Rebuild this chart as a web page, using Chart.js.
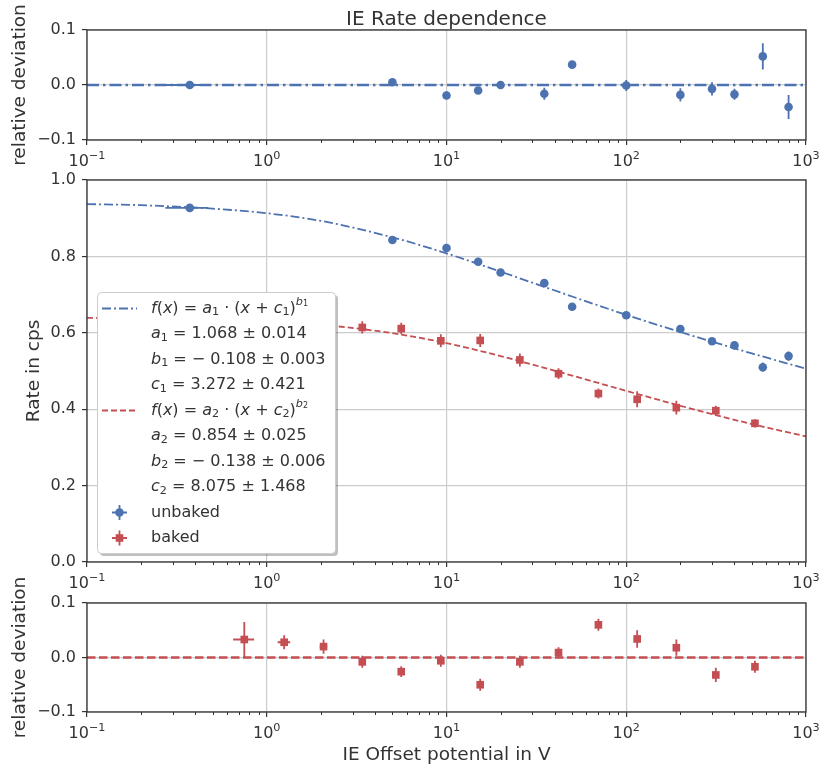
<!DOCTYPE html>
<html>
<head>
<meta charset="utf-8">
<title>IE Rate dependence</title>
<script src="https://cdn.jsdelivr.net/npm/chart.js@4.4.0/dist/chart.umd.min.js"></script>
<style>
  body { margin: 0; background: #fff; }
  #wrap { position: relative; width: 821px; height: 766px; }
  #wrap canvas { position: absolute; left: 0; top: 0; }
</style>
</head>
<body>
<div id="wrap">
  <canvas id="topChart" width="821" height="766"></canvas>
  <canvas id="mainChart" width="821" height="766"></canvas>
  <canvas id="botChart" width="821" height="766"></canvas>
</div>
<script>
// --------------------
// Data
// --------------------
const xTickValues = [0.1, 1, 10, 100, 1000];
const xTickExp = ['−1', '0', '1', '2', '3'];   // labels are 10^exp
const rateTicks = [0, 0.2, 0.4, 0.6, 0.8, 1.0];
const resTicks = [-0.1, 0, 0.1];

// unbaked (blue circles)
const unbakedX = [0.373, 5, 10, 15, 20, 35, 50, 100, 200, 300, 400, 575, 800];
const unbakedY = [0.927, 0.843, 0.822, 0.786, 0.758, 0.730, 0.668, 0.646, 0.610, 0.578, 0.567, 0.510, 0.539];
const unbakedXErr = [0.1, 0.1, 0.1, 0.1, 0.1, 0.1, 0.1, 0.1, 0.1, 0.1, 0.1, 0.1, 0.1];
const unbakedYErr = [0.004, 0.004, 0.005, 0.005, 0.005, 0.008, 0.004, 0.006, 0.007, 0.007, 0.006, 0.012, 0.012];
const unbakedRes = [0.000, 0.005, -0.019, -0.010, 0.000, -0.016, 0.037, -0.001, -0.018, -0.007, -0.017, 0.052, -0.040];
const unbakedResErr = [0.005, 0.005, 0.007, 0.006, 0.007, 0.011, 0.005, 0.010, 0.012, 0.012, 0.010, 0.024, 0.022];

// baked (red squares)
const bakedX = [0.75, 1.25, 2.07, 3.4, 5.6, 9.3, 15.4, 25.6, 42, 70, 115, 190, 315, 520];
const bakedY = [0.612, 0.611, 0.608, 0.614, 0.611, 0.579, 0.580, 0.529, 0.493, 0.441, 0.426, 0.404, 0.396, 0.363];
const bakedXErr = [0.1, 0.1, 0.1, 0.1, 0.1, 0.1, 0.1, 0.1, 0.1, 0.1, 0.1, 0.1, 0.1, 0.1];
const bakedYErr = [0.020, 0.015, 0.015, 0.016, 0.015, 0.017, 0.017, 0.017, 0.014, 0.013, 0.021, 0.018, 0.013, 0.011];
const bakedRes = [0.033, 0.028, 0.020, -0.008, -0.026, -0.006, -0.050, -0.008, 0.009, 0.060, 0.034, 0.018, -0.032, -0.017];
const bakedResErr = [0.032, 0.013, 0.013, 0.011, 0.010, 0.011, 0.011, 0.011, 0.010, 0.011, 0.016, 0.015, 0.013, 0.011];

// fit curves
const fitX = [0.1, 0.2, 0.5, 1, 2, 5, 10, 20, 50, 100, 200, 500, 1000];
const fitUnbaked = [0.937, 0.934, 0.925, 0.913, 0.893, 0.850, 0.808, 0.760, 0.695, 0.647, 0.602, 0.546, 0.506];
const fitBaked = [0.639, 0.638, 0.635, 0.630, 0.621, 0.599, 0.573, 0.539, 0.488, 0.448, 0.409, 0.361, 0.329];
const zeroX = [0.1, 1000];
const zeroY = [0, 0];

// legend parameter texts
const paramA = ['1.068 ± 0.014', '0.854 ± 0.025'];
const paramB = ['− 0.108 ± 0.003', '− 0.138 ± 0.006'];
const paramC = ['3.272 ± 0.421', '8.075 ± 1.468'];

// --------------------
// Style
// --------------------
const BLUE = '#4c72b0';
const RED = '#c44e52';
const GRID = '#cccccc';
const INK = '#333333';
const FONT = '"DejaVu Sans", sans-serif';
const TICK_SIZE = 16;
Chart.defaults.font.family = FONT;
Chart.defaults.color = INK;

const pts = (xs, ys) => xs.map((x, i) => ({ x: x, y: ys[i] }));

// --------------------
// Rich text helpers (italic / sub / sup)
// --------------------
function segFont(s, size) {
  let fs = size, dy = 0;
  if (s.sub) { fs = size * 0.7; dy = size * 0.24; }
  if (s.sup) { fs = size * 0.7; dy = -size * 0.42; }
  if (s.ss) { fs = size * 0.5; dy = -size * 0.26; }
  return { font: (s.it ? 'italic ' : '') + fs + 'px ' + FONT, dy: dy };
}

function measureRich(ctx, segs, size) {
  let w = 0;
  segs.forEach(s => { ctx.font = segFont(s, size).font; w += ctx.measureText(s.t).width; });
  return w;
}

function drawRich(ctx, x, y, segs, size) {
  segs.forEach(s => {
    const f = segFont(s, size);
    ctx.font = f.font;
    ctx.fillText(s.t, x, y + f.dy);
    x += ctx.measureText(s.t).width;
  });
}

// --------------------
// Plugins
// --------------------
const errorBars = {
  id: 'errorBars',
  beforeDatasetsDraw(chart) {
    const { ctx, chartArea: a, scales: { x, y } } = chart;
    ctx.save();
    ctx.beginPath();
    ctx.rect(a.left, a.top, a.right - a.left, a.bottom - a.top);
    ctx.clip();
    chart.data.datasets.forEach(ds => {
      if (!ds.yErr) return;
      ctx.strokeStyle = ds.backgroundColor;
      ctx.lineWidth = 1.8;
      ds.data.forEach((p, i) => {
        const px = x.getPixelForValue(p.x);
        const py = y.getPixelForValue(p.y);
        ctx.beginPath();
        ctx.moveTo(px, y.getPixelForValue(p.y - ds.yErr[i]));
        ctx.lineTo(px, y.getPixelForValue(p.y + ds.yErr[i]));
        if (ds.xErr && ds.xErr[i]) {
          ctx.moveTo(x.getPixelForValue(p.x - ds.xErr[i]), py);
          ctx.lineTo(x.getPixelForValue(p.x + ds.xErr[i]), py);
        }
        ctx.stroke();
      });
    });
    ctx.restore();
  }
};

// frame, minor ticks, x tick labels, titles
const frame = {
  id: 'frame',
  afterDraw(chart, args, o) {
    const { ctx, chartArea: a, scales: { x } } = chart;
    ctx.save();
    // minor ticks on the log axis
    ctx.strokeStyle = INK;
    ctx.lineWidth = 1;
    xTickValues.slice(0, -1).forEach(dec => {
      for (let m = 2; m <= 9; m++) {
        const px = Math.round(x.getPixelForValue(dec * m)) + 0.5;
        ctx.beginPath();
        ctx.moveTo(px, a.bottom);
        ctx.lineTo(px, a.bottom + 3);
        ctx.stroke();
      }
    });
    ctx.lineWidth = 1.3;
    ctx.strokeRect(a.left, a.top, a.right - a.left, a.bottom - a.top);

    ctx.fillStyle = INK;
    ctx.textBaseline = 'alphabetic';
    // x tick labels 10^k
    ctx.textAlign = 'left';
    xTickValues.forEach((v, i) => {
      const segs = [{ t: '10' }, { t: xTickExp[i], sup: 1 }];
      const w = measureRich(ctx, segs, TICK_SIZE);
      drawRich(ctx, x.getPixelForValue(v) - w / 2, a.bottom + 26, segs, TICK_SIZE);
    });

    ctx.textAlign = 'center';
    if (o.title) {
      ctx.font = '20px ' + FONT;
      ctx.fillText(o.title, (a.left + a.right) / 2, a.top - 5);
    }
    if (o.xTitle) {
      ctx.font = '18.5px ' + FONT;
      ctx.fillText(o.xTitle, (a.left + a.right) / 2, a.bottom + 48);
    }
    if (o.yTitle) {
      ctx.font = '18.5px ' + FONT;
      ctx.translate(o.yTitleX, (a.top + a.bottom) / 2);
      ctx.rotate(-Math.PI / 2);
      ctx.fillText(o.yTitle, 0, 0);
    }
    ctx.restore();
  }
};

function fitRow(k) {
  return [{ t: 'f', it: 1 }, { t: '(' }, { t: 'x', it: 1 }, { t: ') = ' }, { t: 'a', it: 1 }, { t: k, sub: 1 },
    { t: ' · (' }, { t: 'x', it: 1 }, { t: ' + ' }, { t: 'c', it: 1 }, { t: k, sub: 1 }, { t: ')' },
    { t: 'b', it: 1, sup: 1 }, { t: k, ss: 1 }];
}
const paramRow = (name, k, val) => [{ t: name, it: 1 }, { t: k, sub: 1 }, { t: ' = ' + val }];

const legendRows = [
  fitRow('1'), paramRow('a', '1', paramA[0]), paramRow('b', '1', paramB[0]), paramRow('c', '1', paramC[0]),
  fitRow('2'), paramRow('a', '2', paramA[1]), paramRow('b', '2', paramB[1]), paramRow('c', '2', paramC[1]),
  [{ t: 'unbaked' }], [{ t: 'baked' }]
];

const legendBox = {
  id: 'legendBox',
  afterDraw(chart) {
    const ctx = chart.ctx;
    const L = 97, T = 292, W = 238, H = 261;
    ctx.save();
    // shadow
    ctx.fillStyle = 'rgba(0,0,0,0.25)';
    ctx.beginPath(); ctx.roundRect(L + 3, T + 3, W, H, 4); ctx.fill();
    ctx.fillStyle = '#ffffff';
    ctx.strokeStyle = '#cccccc';
    ctx.lineWidth = 1;
    ctx.beginPath(); ctx.roundRect(L + 0.5, T + 0.5, W, H, 4); ctx.fill(); ctx.stroke();

    const rowY = i => 308.5 + i * 25.5;
    // line handles
    ctx.lineWidth = 1.8;
    ctx.strokeStyle = BLUE; ctx.setLineDash([9, 3, 2, 3]);
    ctx.beginPath(); ctx.moveTo(102, rowY(0)); ctx.lineTo(137, rowY(0)); ctx.stroke();
    ctx.strokeStyle = RED; ctx.setLineDash([6, 3]);
    ctx.beginPath(); ctx.moveTo(102, rowY(4)); ctx.lineTo(137, rowY(4)); ctx.stroke();
    ctx.setLineDash([]);
    // errorbar handles
    [[8, BLUE], [9, RED]].forEach(([r, c]) => {
      const cx = 119.5, cy = rowY(r);
      ctx.strokeStyle = c; ctx.fillStyle = c; ctx.lineWidth = 1.8;
      ctx.beginPath();
      ctx.moveTo(cx - 7.5, cy); ctx.lineTo(cx + 7.5, cy);
      ctx.moveTo(cx, cy - 7.5); ctx.lineTo(cx, cy + 7.5);
      ctx.stroke();
      ctx.beginPath();
      if (r === 8) ctx.arc(cx, cy, 4.3, 0, Math.PI * 2);
      else ctx.rect(cx - 3.8, cy - 3.8, 7.6, 7.6);
      ctx.fill();
    });
    // texts
    ctx.fillStyle = INK;
    ctx.textAlign = 'left';
    ctx.textBaseline = 'middle';
    legendRows.forEach((segs, i) => drawRich(ctx, 151, rowY(i), segs, 16));
    ctx.restore();
  }
};

// --------------------
// Scales
// --------------------
function xScale(bottom) {
  return {
    type: 'logarithmic', min: 0.1, max: 1000,
    afterBuildTicks: s => { s.ticks = xTickValues.map(v => ({ value: v })); },
    afterFit: s => { s.height = 766 - bottom; },
    ticks: { display: false, autoSkip: false, maxRotation: 0 },
    grid: { color: GRID, lineWidth: 1.2, tickLength: 5, tickColor: INK, tickWidth: 1.2 },
    border: { display: false }
  };
}

function fmt(v) {
  return (Math.abs(v) < 1e-9 ? '0.0' : v.toFixed(1)).replace('-', '−');
}

function yScale(min, max, ticks) {
  return {
    type: 'linear', min: min, max: max,
    afterBuildTicks: s => { s.ticks = ticks.map(v => ({ value: v })); },
    afterFit: s => { s.width = 87; },
    ticks: { padding: 6, color: INK, font: { size: TICK_SIZE }, callback: v => fmt(v) },
    grid: { color: GRID, lineWidth: 1.2, tickLength: 5, tickColor: INK, tickWidth: 1.2 },
    border: { display: false }
  };
}

function baseOptions(top, bottom, yMin, yMax, yTicks, texts) {
  return {
    responsive: false,
    animation: false,
    events: [],
    devicePixelRatio: 1,
    layout: { padding: { top: top, right: 15, left: 0, bottom: 0 } },
    scales: { x: xScale(bottom), y: yScale(yMin, yMax, yTicks) },
    plugins: { legend: { display: false }, tooltip: { enabled: false }, frame: texts }
  };
}

// --------------------
// Top residual panel (unbaked)
// --------------------
new Chart(document.getElementById('topChart'), {
  type: 'scatter',
  data: {
    datasets: [
      { data: pts(unbakedX, unbakedRes), yErr: unbakedResErr, xErr: unbakedXErr, backgroundColor: BLUE, borderColor: BLUE,
        pointStyle: 'circle', pointRadius: 4.3, borderWidth: 0, order: 0 },
      { data: pts(zeroX, zeroY), showLine: true, borderColor: BLUE, borderWidth: 2.3, borderDash: [12, 4, 2.5, 4],
        pointRadius: 0, order: 1 }
    ]
  },
  options: baseOptions(30, 140, -0.1, 0.1, resTicks,
    { title: 'IE Rate dependence', yTitle: 'relative deviation', yTitleX: 25 }),
  plugins: [errorBars, frame]
});

// --------------------
// Main panel
// --------------------
new Chart(document.getElementById('mainChart'), {
  type: 'scatter',
  data: {
    datasets: [
      { data: pts(unbakedX, unbakedY), yErr: unbakedYErr, xErr: unbakedXErr, backgroundColor: BLUE, borderColor: BLUE,
        pointStyle: 'circle', pointRadius: 4.3, borderWidth: 0, order: 0 },
      { data: pts(bakedX, bakedY), yErr: bakedYErr, xErr: bakedXErr, backgroundColor: RED, borderColor: RED,
        pointStyle: 'rect', pointRadius: 5.4, borderWidth: 0, order: 0 },
      { data: pts(fitX, fitUnbaked), showLine: true, borderColor: BLUE, borderWidth: 1.8, borderDash: [9, 3, 2, 3],
        cubicInterpolationMode: 'monotone', pointRadius: 0, order: 1 },
      { data: pts(fitX, fitBaked), showLine: true, borderColor: RED, borderWidth: 1.8, borderDash: [6, 3],
        cubicInterpolationMode: 'monotone', pointRadius: 0, order: 1 }
    ]
  },
  options: baseOptions(180, 562, 0, 1.0, rateTicks, { yTitle: 'Rate in cps', yTitleX: 39 }),
  plugins: [errorBars, frame, legendBox]
});

// --------------------
// Bottom residual panel (baked)
// --------------------
new Chart(document.getElementById('botChart'), {
  type: 'scatter',
  data: {
    datasets: [
      { data: pts(bakedX, bakedRes), yErr: bakedResErr, xErr: bakedXErr, backgroundColor: RED, borderColor: RED,
        pointStyle: 'rect', pointRadius: 5.4, borderWidth: 0, order: 0 },
      { data: pts(zeroX, zeroY), showLine: true, borderColor: RED, borderWidth: 2.3, borderDash: [8.5, 3.5],
        pointRadius: 0, order: 1 }
    ]
  },
  options: baseOptions(603, 712, -0.1, 0.1, resTicks,
    { yTitle: 'relative deviation', yTitleX: 25, xTitle: 'IE Offset potential in V' }),
  plugins: [errorBars, frame]
});
</script>
</body>
</html>
